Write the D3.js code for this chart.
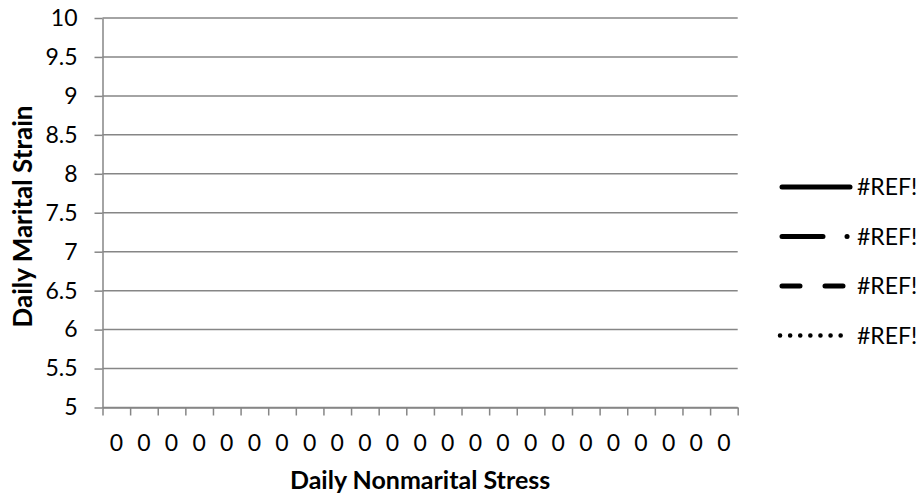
<!DOCTYPE html>
<html>
<head>
<meta charset="utf-8">
<script src="https://cdn.jsdelivr.net/npm/d3@7"></script>
<style>
    html, body { margin: 0; padding: 0; background: #fff; }
    svg { display: block; font-family: Lato, "Open Sans", sans-serif; }
</style>
</head>
<body>
<div id="chart"></div>
<script>
// x categories (the source cells all evaluate to 0)
const categories = ['0', '0', '0', '0', '0', '0', '0', '0', '0', '0', '0', '0',
    '0', '0', '0', '0', '0', '0', '0', '0', '0', '0', '0'];

// y tick values
const yTicks = [5, 5.5, 6, 6.5, 7, 7.5, 8, 8.5, 9, 9.5, 10];

// series names (broken references) and their values (nothing plotted)
const seriesNames = ['#REF!', '#REF!', '#REF!', '#REF!'];
const series1 = [];
const series2 = [];
const series3 = [];
const series4 = [];

const xTitle = 'Daily Nonmarital Stress';
const yTitle = 'Daily Marital Strain';

// line styles per series: solid, long dash dot, dash, round dot
const lineStyles = [
    { dash: null, width: 5 },
    { dash: '41,24,0.1,100', width: 5 },
    { dash: '18,25', width: 5 },
    { dash: '0.1,10', width: 4.5 }
];

const chartW = 922, chartH = 495;
const plotLeft = 102.5, plotRight = 737.7, plotTop = 18, plotBottom = 407.5;
const grey = '#868686';

const svg = d3.select('#chart')
    .append('svg')
    .attr('width', chartW)
    .attr('height', chartH);

svg.append('rect').attr('width', chartW).attr('height', chartH).attr('fill', '#fff');

// scales
const x = d3.scaleBand()
    .domain(d3.range(categories.length))
    .range([plotLeft, plotRight])
    .padding(0);

const xEdge = d3.scaleLinear()
    .domain([0, categories.length])
    .range([plotLeft, plotRight]);

const y = d3.scaleLinear()
    .domain([5, 10])
    .range([plotBottom, plotTop]);

// horizontal gridlines
svg.append('g')
    .selectAll('line')
    .data(yTicks)
    .enter()
    .append('line')
    .attr('x1', plotLeft)
    .attr('x2', plotRight)
    .attr('y1', d => y(d))
    .attr('y2', d => y(d))
    .attr('stroke', grey)
    .attr('stroke-width', 1.5);

// y axis
const yAxis = svg.append('g')
    .attr('transform', `translate(${plotLeft},0)`)
    .call(d3.axisLeft(y)
        .tickValues(yTicks)
        .tickFormat(d => String(d))
        .tickSize(8)
        .tickSizeOuter(0)
        .tickPadding(17));

yAxis.select('.domain').attr('stroke', grey).attr('stroke-width', 1.5);
yAxis.selectAll('.tick line').attr('stroke', grey).attr('stroke-width', 1.5);
yAxis.selectAll('.tick text')
    .attr('fill', '#000')
    .style('font-size', '23px')
    .style('font-family', 'Lato, sans-serif');

// x axis tick marks, between categories
const xTicksAxis = svg.append('g')
    .attr('transform', `translate(0,${plotBottom})`)
    .call(d3.axisBottom(xEdge)
        .tickValues(d3.range(categories.length + 1))
        .tickFormat('')
        .tickSize(8)
        .tickSizeOuter(0));

xTicksAxis.select('.domain').attr('stroke', grey).attr('stroke-width', 1.5);
xTicksAxis.selectAll('.tick line').attr('stroke', grey).attr('stroke-width', 1.5);

// x axis category labels
const xLabels = svg.append('g')
    .attr('transform', `translate(0,${plotBottom})`)
    .call(d3.axisBottom(x)
        .tickFormat(i => categories[i])
        .tickSize(0)
        .tickPadding(27));

xLabels.select('.domain').remove();
xLabels.selectAll('.tick text')
    .attr('fill', '#000')
    .style('font-size', '23px')
    .style('font-family', 'Lato, sans-serif');

// series lines (no valid values in the source)
const line = d3.line()
    .defined(d => d != null)
    .x((d, i) => x(i) + x.bandwidth() / 2)
    .y(d => y(d));

[series1, series2, series3, series4].forEach((vals, k) => {
    svg.append('path')
        .datum(vals)
        .attr('d', line)
        .attr('fill', 'none')
        .attr('stroke', '#000')
        .attr('stroke-width', lineStyles[k].width)
        .attr('stroke-dasharray', lineStyles[k].dash)
        .attr('stroke-linecap', 'round');
});

// axis titles
svg.append('text')
    .attr('x', (plotLeft + plotRight) / 2)
    .attr('y', 489)
    .attr('text-anchor', 'middle')
    .style('font-size', '25px')
    .style('font-weight', 'bold')
    .text(xTitle);

svg.append('text')
    .attr('transform', `translate(32,${(108 + 325) / 2}) rotate(-90)`)
    .attr('text-anchor', 'middle')
    .style('font-size', '26px')
    .style('font-weight', 'bold')
    .text(yTitle);

// legend
const legendY = d3.scalePoint()
    .domain(d3.range(seriesNames.length))
    .range([187, 335.5]);

const legend = svg.append('g')
    .selectAll('g')
    .data(seriesNames)
    .enter()
    .append('g')
    .attr('transform', (d, i) => `translate(0,${legendY(i)})`);

legend.append('line')
    .attr('x1', (d, i) => i === 3 ? 780 : 782)
    .attr('x2', (d, i) => i === 3 ? 841 : 850)
    .attr('stroke', '#000')
    .attr('stroke-width', (d, i) => lineStyles[i].width)
    .attr('stroke-dasharray', (d, i) => lineStyles[i].dash)
    .attr('stroke-linecap', 'round');

legend.append('text')
    .attr('x', 857)
    .attr('dy', '0.36em')
    .style('font-size', '23px')
    .text(d => d);
</script>
</body>
</html>
